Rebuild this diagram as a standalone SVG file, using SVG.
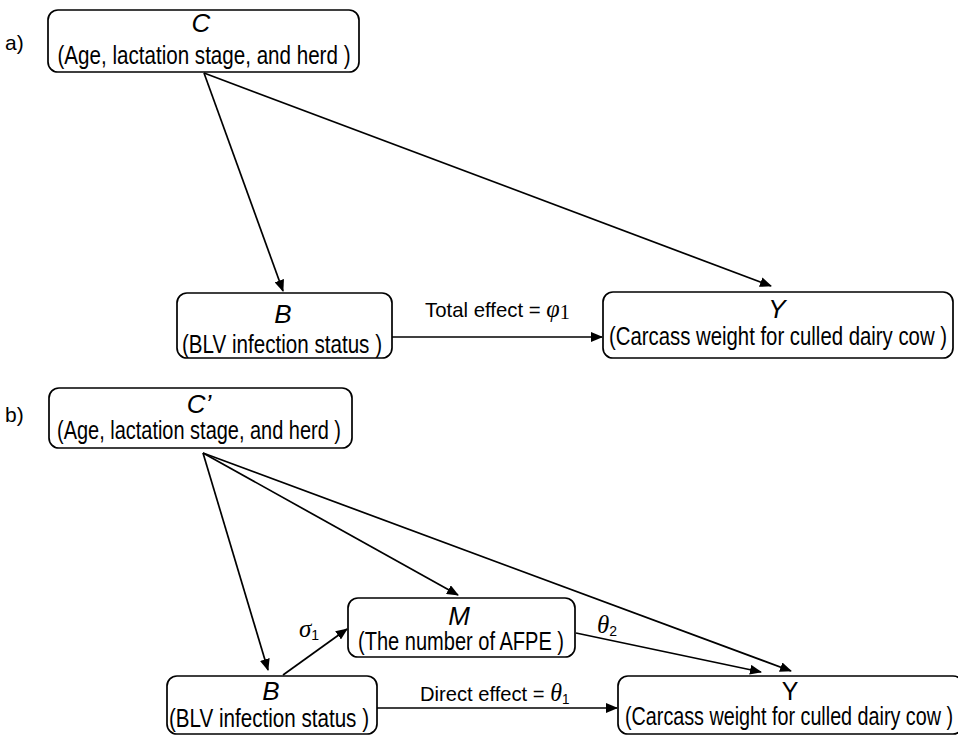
<svg xmlns="http://www.w3.org/2000/svg" width="958" height="735" viewBox="0 0 958 735">
<defs>
<marker id="ah" markerWidth="12" markerHeight="10" refX="11" refY="5" orient="auto" markerUnits="userSpaceOnUse">
<path d="M0,0 L12,5 L0,10 Z" fill="#000"/>
</marker>
<style>
.box{fill:#fff;stroke:#000;stroke-width:1.7}
.t{font-family:"Liberation Sans",Arial,sans-serif;font-size:25px;fill:#000;text-anchor:middle}
.v{font-family:"Liberation Sans",Arial,sans-serif;font-size:26px;fill:#000;text-anchor:middle;font-style:italic}
.lbl{font-family:"Liberation Sans",Arial,sans-serif;font-size:21px;fill:#000}
.g{font-family:"Liberation Serif","Times New Roman",serif;font-style:italic}
.e{stroke:#000;stroke-width:1.7;fill:none;marker-end:url(#ah)}
</style>
</defs>
<text class="lbl" x="5" y="50" font-size="25">a)</text>
<text class="lbl" x="5" y="422" font-size="25">b)</text>

<g id="connectors">
<line class="e" x1="204" y1="73" x2="283" y2="291"/>
<line class="e" x1="204" y1="73" x2="771" y2="286"/>
<line class="e" x1="392" y1="337" x2="602" y2="337"/>
<line class="e" x1="203" y1="453" x2="268" y2="670"/>
<line class="e" x1="203" y1="453" x2="458" y2="595"/>
<line class="e" x1="203" y1="453" x2="791" y2="671"/>
<line class="e" x1="576" y1="633" x2="761" y2="672"/>
<line class="e" x1="283" y1="675" x2="347" y2="629"/>
<line class="e" x1="377" y1="708" x2="617" y2="708"/>
</g>

<g id="labels">
<text class="lbl" transform="translate(425,317) scale(0.97,1)">Total effect = <tspan class="g" font-size="25">φ</tspan><tspan font-family="Liberation Serif, serif" font-size="21" dy="2">1</tspan></text>
<text class="lbl" transform="translate(420,701) scale(0.96,1)">Direct effect = <tspan class="g" font-size="25">θ</tspan><tspan font-size="14" dy="3">1</tspan></text>
<text class="lbl" x="299" y="637"><tspan class="g" font-size="25">σ</tspan><tspan font-size="14" dy="3">1</tspan></text>
<text class="lbl" x="597" y="633"><tspan class="g" font-size="25">θ</tspan><tspan font-size="14" dy="3">2</tspan></text>
</g>

<g id="C">
<rect class="box" x="48" y="10" width="311" height="62" rx="10"/>
<text class="v" x="201" y="32">C</text>
<text class="t" x="204" y="64" textLength="293" lengthAdjust="spacingAndGlyphs">(Age, lactation stage, and herd )</text>
</g>
<g id="B_a">
<rect class="box" x="177" y="293" width="215" height="65" rx="10"/>
<text class="v" x="283" y="323">B</text>
<text class="t" x="282" y="353" textLength="200" lengthAdjust="spacingAndGlyphs">(BLV infection status )</text>
</g>
<g id="Y_a">
<rect class="box" x="603" y="292" width="350" height="66" rx="10"/>
<text class="v" x="777" y="318">Y</text>
<text class="t" x="778" y="345" textLength="338" lengthAdjust="spacingAndGlyphs">(Carcass weight for culled dairy cow )</text>
</g>

<g id="Cprime">
<rect class="box" x="49" y="388" width="303" height="60" rx="10"/>
<text class="v" x="199" y="413">C’</text>
<text class="t" x="199" y="439" textLength="284" lengthAdjust="spacingAndGlyphs">(Age, lactation stage, and herd )</text>
</g>
<g id="M">
<rect class="box" x="348" y="598" width="227" height="59" rx="10"/>
<text class="v" x="459" y="625">M</text>
<text class="t" x="461" y="650" textLength="206" lengthAdjust="spacingAndGlyphs">(The number of AFPE )</text>
</g>
<g id="B_b">
<rect class="box" x="167" y="676" width="210" height="58" rx="10"/>
<text class="v" x="271" y="700">B</text>
<text class="t" x="269" y="727" textLength="200" lengthAdjust="spacingAndGlyphs">(BLV infection status )</text>
</g>
<g id="Y_b">
<rect class="box" x="618" y="676" width="345" height="58" rx="10"/>
<text class="t" x="790" y="700" font-size="26">Y</text>
<text class="t" x="789" y="725" textLength="328" lengthAdjust="spacingAndGlyphs">(Carcass weight for culled dairy cow )</text>
</g>
</svg>
